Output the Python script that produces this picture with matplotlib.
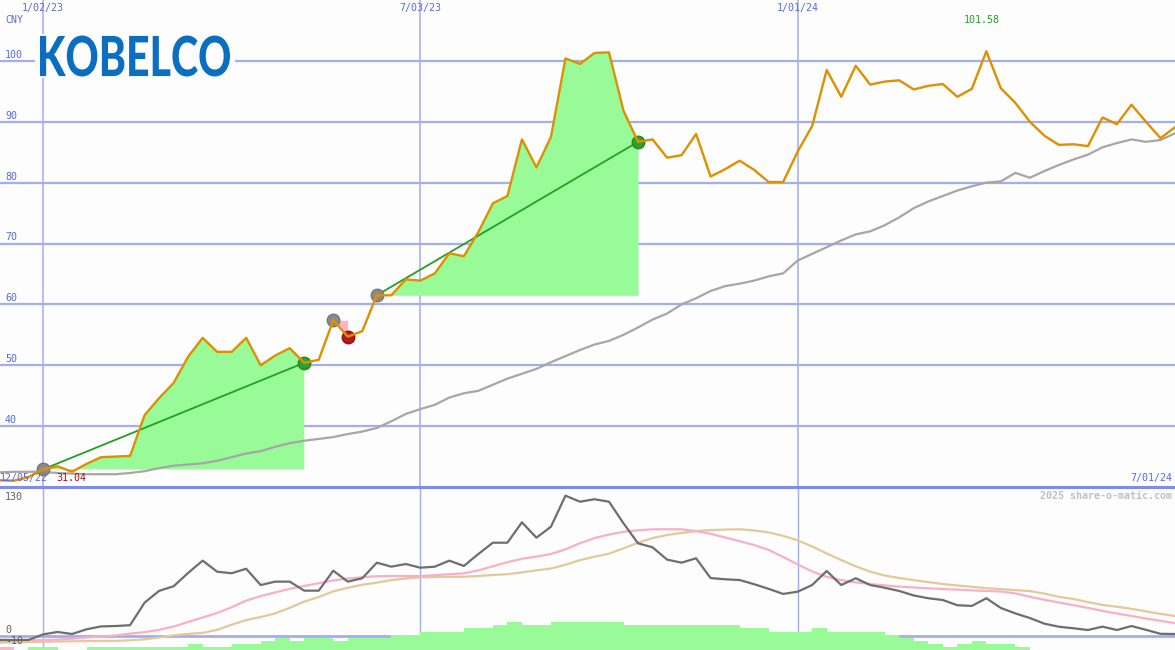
import numpy as np
import pandas as pd
import matplotlib
matplotlib.use('Agg')
import matplotlib.pyplot as plt
import matplotlib.dates as mdates
from matplotlib.textpath import TextPath
from matplotlib.patches import PathPatch, Rectangle
from matplotlib.font_manager import FontProperties
from matplotlib.transforms import Affine2D

# weekly closes, Kobe Steel (CNY)
dates = pd.date_range('2022-12-12', periods=82, freq='7D').to_numpy()
close = [31.1, 31.04, 31.6, 32.9, 33.4, 32.5, 33.8, 34.9, 35.0, 35.1,
         41.8, 44.6, 47.1, 51.4, 54.5, 52.2, 52.2, 54.5, 50.0, 51.6,
         52.8, 50.4, 50.9, 57.4, 54.7, 55.6, 61.5, 61.5, 64.1, 63.9,
         65.1, 68.4, 67.9, 71.9, 76.6, 77.8, 87.1, 82.5, 87.5, 100.4,
         99.5, 101.3, 101.4, 91.8, 86.7, 87.1, 84.1, 84.5, 88.0, 81.0,
         82.2, 83.6, 82.1, 80.1, 80.1, 85.1, 89.3, 98.5, 94.1, 99.2,
         96.1, 96.6, 96.8, 95.3, 95.9, 96.2, 94.1, 95.4, 101.58, 95.5,
         93.1, 90.0, 87.7, 86.2, 86.3, 86.0, 90.7, 89.6, 92.8, 90.0,
         87.3, 89.1]
avg = [32.4, 32.5, 32.5, 32.5, 32.3, 32.2, 32.1, 32.1, 32.1, 32.3,
       32.6, 33.1, 33.5, 33.7, 33.9, 34.3, 34.9, 35.5, 35.9, 36.6,
       37.2, 37.6, 37.9, 38.2, 38.7, 39.1, 39.7, 40.8, 42.0, 42.8,
       43.5, 44.7, 45.4, 45.8, 46.8, 47.8, 48.6, 49.4, 50.5, 51.5,
       52.5, 53.4, 54.0, 55.0, 56.2, 57.5, 58.5, 60.0, 61.0, 62.2,
       63.0, 63.4, 63.9, 64.6, 65.1, 67.2, 68.3, 69.4, 70.5, 71.5,
       72.0, 73.0, 74.3, 75.8, 76.9, 77.8, 78.7, 79.4, 80.0, 80.2,
       81.6, 80.8, 81.9, 82.9, 83.8, 84.6, 85.8, 86.5, 87.1, 86.7,
       87.0, 88.1]
# buy/sell signals: (start index, end index)
signals = [(3, 21), (23, 24), (26, 44)]

# lower panel
osc = [-3.4, -3.4, -3.4, 2.0, 4.4, 2.4, 7.0, 9.8, 10.2, 11.0,
       33.0, 44.5, 49.0, 62.0, 74.0, 63.2, 61.7, 66.1, 50.2, 53.5,
       53.5, 44.7, 44.7, 64.2, 53.5, 56.8, 72.0, 68.1, 70.7, 67.1,
       68.1, 74.0, 68.8, 80.5, 91.5, 91.5, 111.4, 96.4, 107.1, 137.4,
       131.5, 133.9, 131.5, 110.4, 90.9, 87.0, 75.0, 72.0, 76.3, 57.0,
       55.8, 55.1, 51.0, 46.5, 41.5, 43.7, 50.2, 63.9, 50.2, 56.8,
       50.2, 47.5, 44.4, 40.0, 37.3, 35.6, 30.5, 29.8, 37.3, 27.8,
       22.5, 18.0, 12.5, 9.5, 8.0, 6.3, 9.6, 6.3, 10.2, 6.5,
       2.6, 2.4]
fast = [-4.4, -4.1, -3.8, -3.5, -3.0, -2.2, -1.0, 0.0, 1.0, 2.8,
        4.2, 6.5, 9.7, 14.2, 18.5, 23.0, 28.5, 35.0, 39.5, 43.0,
        46.5, 49.3, 52.0, 54.7, 56.5, 57.8, 58.8, 59.0, 59.0, 59.0,
        59.8, 60.8, 61.6, 64.5, 68.5, 72.5, 75.8, 78.0, 80.5, 85.0,
        91.0, 96.0, 99.5, 102.2, 103.6, 104.6, 104.6, 104.6, 102.8, 100.2,
        96.6, 93.0, 89.2, 84.5, 77.5, 70.3, 63.5, 58.2, 55.0, 52.8,
        51.2, 49.8, 48.7, 47.8, 47.0, 46.3, 45.7, 45.0, 44.4, 43.9,
        42.0, 38.8, 35.8, 33.2, 30.5, 27.9, 25.0, 22.4, 20.0, 17.5,
        15.3, 13.0]
slow = [-6.0, -5.7, -5.4, -5.1, -4.9, -4.7, -4.5, -4.4, -4.3, -3.7,
        -2.8, -1.0, 1.2, 2.5, 3.5, 6.5, 11.5, 16.0, 19.0, 22.5,
        28.0, 34.0, 38.5, 44.0, 47.5, 50.5, 52.5, 55.0, 56.6, 57.7,
        58.0, 58.2, 58.3, 59.0, 60.0, 60.8, 62.5, 64.5, 66.3, 70.0,
        74.5, 77.8, 80.8, 86.0, 91.5, 96.0, 99.0, 101.0, 102.8, 103.8,
        104.3, 104.6, 103.5, 101.5, 98.2, 93.8, 87.8, 81.0, 74.5, 68.5,
        63.2, 59.5, 57.0, 55.0, 53.0, 51.2, 49.8, 48.4, 47.2, 46.2,
        45.2, 44.3, 41.8, 38.7, 36.6, 33.5, 30.8, 29.0, 27.0, 24.5,
        22.0, 20.0]
volume = [-1, 0, 1, 1, 0, 0, 1, 1, 1, 1,
          1, 1, 1, 2, 1, 1, 2, 2, 3, 4,
          3, 4, 4, 3, 4, 4, 4, 5, 5, 6,
          6, 6, 7, 7, 8, 9, 8, 8, 9, 9,
          9, 9, 9, 8, 8, 8, 8, 8, 8, 8,
          8, 7, 7, 6, 6, 6, 7, 6, 6, 6,
          6, 5, 4, 3, 2, 1, 2, 3, 2, 2,
          1, 0, 0, 0, 0, 0, 0, 0, 0, 0,
          0, 0]
tick_dates = ['2023-01-02', '2023-07-03', '2024-01-01']
tick_labels = ['1/02/23', '7/03/23', '1/01/24']
price_levels = [40, 50, 60, 70, 80, 90, 100]

close = np.array(close)
BG = '#fcfdfc'
GRID = '#a3adf0'
BLUE_TXT = '#5a68e4'
MONO = 'DejaVu Sans Mono'

fig = plt.figure(figsize=(11.75, 6.5), dpi=100, facecolor=BG)
ax = fig.add_axes([0, 163 / 650, 1, 487 / 650])
ax2 = fig.add_axes([0, 0, 1, 161 / 650])

t0 = mdates.date2num(np.datetime64('2023-01-02'))
xlim = (t0 - 20.74, t0 + 546)
for a in (ax, ax2):
    a.set_facecolor(BG)
    a.set_xlim(xlim)
    a.set_xticks([])
    a.set_yticks([])
    for s in a.spines.values():
        s.set_visible(False)

ax.set_ylim(30, 110)
ax2.set_ylim(-13.2, 143.9)

# grid
for v in price_levels:
    ax.axhline(v, color=GRID, lw=1.6, zorder=1)
    ax.annotate(str(v), xy=(0, v), xycoords=('axes fraction', 'data'), xytext=(5, 6),
                textcoords='offset pixels', va='center', ha='left', color=BLUE_TXT,
                family=MONO, fontsize=7.2)
for d, lab in zip(tick_dates, tick_labels):
    ax.axvline(np.datetime64(d), color=GRID, lw=1.1, zorder=1)
    ax2.axvline(np.datetime64(d), color=GRID, lw=1.0, zorder=1)
    ax.text(np.datetime64(d), 1 - 8 / 487, lab, transform=ax.get_xaxis_transform(),
            ha='center', va='center', color=BLUE_TXT, family=MONO, fontsize=7.2)
ax.axhline(30, color='#7f8cee', lw=2.2, zorder=6, clip_on=False)

# signal fills, trend lines and markers
for i0, i1 in signals:
    xs = dates[i0:i1 + 1]
    ys = close[i0:i1 + 1]
    base = ys[0]
    ax.fill_between(xs, ys, base, where=ys >= base, interpolate=True,
                    color='#98fb98', lw=0, zorder=2)
    ax.fill_between(xs, ys, base, where=ys <= base, interpolate=True,
                    color='#ffb6c1', lw=0, zorder=2)
    gain = ys[-1] >= base
    if gain:
        ax.plot([xs[0], xs[-1]], [ys[0], ys[-1]], color='#22a022', lw=1.3, zorder=3.4)
    ax.plot(xs[0], ys[0], 'o', ms=9, color='#8a8a8a', mec='#777777', zorder=3.5)
    ax.plot(xs[-1], ys[-1], 'o', ms=9, color='#2ea02e' if gain else '#b01a1a',
            mec='#238a23' if gain else '#961010', zorder=3.5)

ax.plot(dates, avg, color='#a6a6a6', lw=1.6, zorder=3)
ax.plot(dates, close, color='#de9000', lw=1.7, zorder=4)

# labels in upper panel
fig.text(5 / 1175, 1 - 20 / 650, 'CNY', color=BLUE_TXT, family=MONO, fontsize=7.2, va='center')
imax = int(np.argmax(close))
ax.annotate(f'{close[imax]:.2f}', xy=(dates[imax], 0), xycoords=('data', 'axes fraction'),
            xytext=(-5, 467), textcoords='offset pixels', ha='center', va='center',
            color='#22a022', family=MONO, fontsize=7.2)
fig.text(0, 1 - 478 / 650, '12/05/22', color=BLUE_TXT, family=MONO, fontsize=7.2, va='center')
fig.text(56 / 1175, 1 - 478 / 650, f'{close.min():.2f}', color='#a01414', family=MONO,
         fontsize=7.2, va='center')
fig.text(1172 / 1175, 1 - 478 / 650, '7/01/24', color=BLUE_TXT, family=MONO, fontsize=7.2,
         va='center', ha='right')

# lower panel
ax2.axhline(0, color='#a3adf0', lw=2.0, zorder=1)
vol = np.array(volume)
ax2.bar(mdates.date2num(dates), np.abs(vol) * 3.0, bottom=-13.2, width=7, align='edge',
        color=['#ffb6c1' if v < 0 else '#98fb98' for v in vol], lw=0, zorder=2)
ax2.plot(dates, slow, color='#e3c99a', lw=1.6, zorder=3)
ax2.plot(dates, fast, color='#f8b0c6', lw=1.6, zorder=3.1)
ax2.plot(dates, osc, color='#6e6e6e', lw=1.6, zorder=3.2)
for v in (130, 0, -10):
    ax2.annotate(str(v), xy=(0, v), xycoords=('axes fraction', 'data'), xytext=(5, 6),
                 textcoords='offset pixels', va='center', ha='left', color='#606060',
                 family=MONO, fontsize=7.2, zorder=5)
fig.text(1172 / 1175, 1 - 496 / 650, '2025 share-o-matic.com', color='#c0c0c0', family=MONO,
         fontsize=7.2, fontweight='bold', va='center', ha='right')

# logo
lax = fig.add_axes([0, 0, 1, 1], zorder=10)
lax.set_xlim(0, 1175)
lax.set_ylim(650, 0)
lax.axis('off')
lax.add_patch(Rectangle((35, 34), 200, 44, color=BG, lw=0))
tp = TextPath((0, 0), 'KOBELCO', size=100, prop=FontProperties(family=['Lato', 'DejaVu Sans'], weight='black'))
bb = tp.get_extents()
tr = Affine2D().translate(-bb.x0, -bb.y0).scale(190 / bb.width, -41 / bb.height).translate(40, 76.5)
lax.add_patch(PathPatch(tr.transform_path(tp), color='#0a6fc0', lw=0))

fig.savefig('out.png', dpi=100, facecolor=BG)
